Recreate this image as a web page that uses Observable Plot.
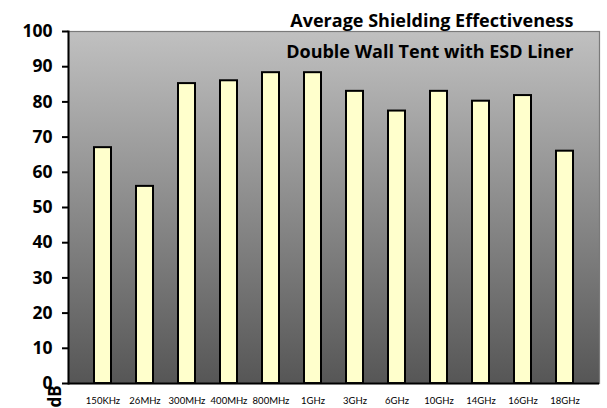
<!DOCTYPE html>
<html><head><meta charset="utf-8">
<script src="https://cdn.jsdelivr.net/npm/d3@7"></script>
<script src="https://cdn.jsdelivr.net/npm/@observablehq/plot@0.6"></script>
<style>body{margin:0;background:#fff}</style>
</head><body><div id="chart"></div>
<script>
const categories = ["150KHz","26MHz","300MHz","400MHz","800MHz","1GHz","3GHz","6GHz","10GHz","14GHz","16GHz","18GHz"];
const values = [67, 56, 85.2, 86, 88.3, 88.3, 83, 77.4, 83, 80.2, 81.8, 66];
const yTicks = [0,10,20,30,40,50,60,70,80,90,100];
const title = "Average Shielding Effectiveness";
const subtitle = "Double Wall Tent with ESD Liner";
const yLabel = "dB";

const data = categories.map((c,i)=>({cat:c, val:values[i]}));
const font = "'Open Sans', Lato, sans-serif";

const chart = Plot.plot({
  width: 607, height: 408,
  marginLeft: 68, marginRight: 8, marginTop: 31, marginBottom: 25,
  style: {fontFamily: font, background: "#fff", overflow: "visible"},
  x: {domain: categories, padding: 0.6, label: null},
  y: {domain: [0,100], ticks: yTicks, label: null},
  marks: [
    Plot.frame({fill: "url(#bggrad)", stroke: "none"}),
    Plot.barY(data, {x: "cat", y: "val", fill: "#ffffcc", stroke: "#000", strokeWidth: 2}),
    Plot.frame({stroke: "#7a7a7a", strokeWidth: 1.2}),
    Plot.frame({anchor: "left", stroke: "#000", strokeWidth: 2}),
    Plot.axisX({tickSize: 0, tickPadding: 14, fontSize: 9.5, fontFamily: "Lato, sans-serif", fill: "#000", label: null}),
    Plot.axisY({ticks: yTicks, tickSize: 6, tickPadding: 10, fontSize: 17.5, fontWeight: "bold", fill: "#000", stroke: "#000", strokeWidth: 2, label: null}),
    Plot.ruleY([0], {stroke: "#000", strokeWidth: 2}),
    Plot.text([title], {frameAnchor: "top-right", dx: -26, dy: -17, fontSize: 18, fontWeight: "bold", fill: "#000", textAnchor: "end"}),
    Plot.text([subtitle], {frameAnchor: "top-right", dx: -26, dy: 14, fontSize: 18, fontWeight: "bold", fill: "#000", textAnchor: "end"}),
    Plot.text([yLabel], {frameAnchor: "bottom-left", dx: -8, dy: 24, rotate: -90, textAnchor: "start", fontSize: 17, fontWeight: "bold", fill: "#000"})
  ]
});
const svg = d3.select(chart);
const defs = svg.insert("defs", ":first-child");
const g = defs.append("linearGradient").attr("id","bggrad").attr("x1",0).attr("y1",0).attr("x2",0).attr("y2",1);
g.append("stop").attr("offset","0%").attr("stop-color","#c0c0c0");
g.append("stop").attr("offset","100%").attr("stop-color","#565656");
document.getElementById("chart").appendChild(chart);
</script></body></html>
